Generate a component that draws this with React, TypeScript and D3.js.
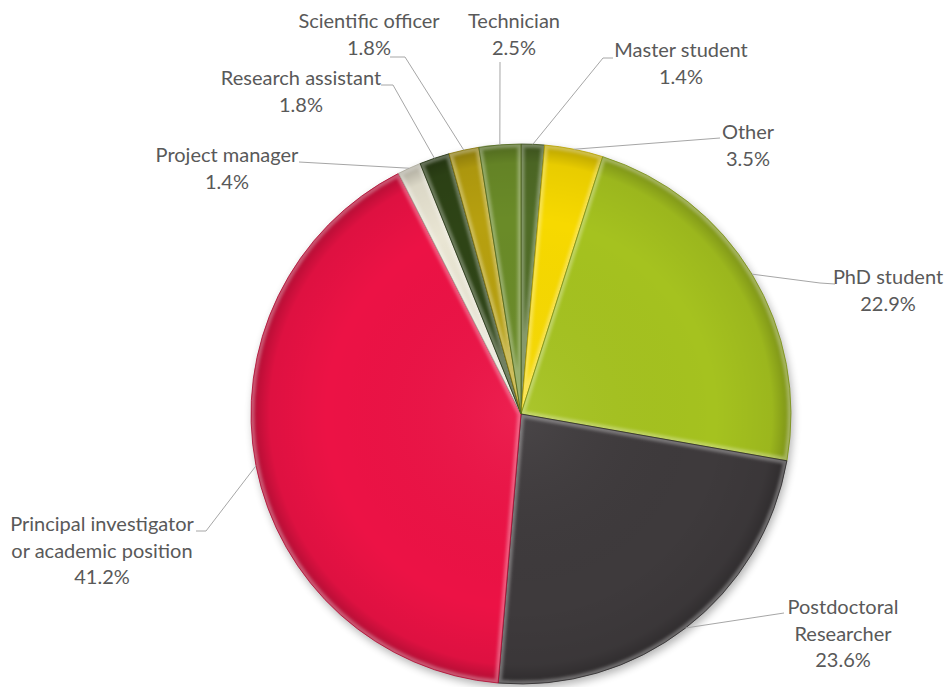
import React from 'react';
import * as d3 from 'd3';

const categories = [
  'Master student',
  'Other',
  'PhD student',
  'Postdoctoral Researcher',
  'Principal investigator or academic position',
  'Project manager',
  'Research assistant',
  'Scientific officer',
  'Technician',
];
const labelLines = [
  ['Master student'],
  ['Other'],
  ['PhD student'],
  ['Postdoctoral', 'Researcher'],
  ['Principal investigator', 'or academic position'],
  ['Project manager'],
  ['Research assistant'],
  ['Scientific officer'],
  ['Technician'],
];
const values = [1.4, 3.5, 22.9, 23.6, 41.2, 1.4, 1.8, 1.8, 2.5];
const colors = ['#4f6b26', '#f7d900', '#a5c21f', '#3e3a3c', '#ec1245', '#e9e5d3', '#2e4416', '#b7a00f', '#6a8b28'];

const W = 949;
const H = 687;
const CX = 521;
const CY = 414;
const R = 270;
const LINE_H = 26.5;

// label placement: centre x, first baseline, leader points (from pie outward to label)
const labelLayout: { cx: number; y: number; leader: [number, number][] }[] = [
  { cx: 681, y: 57, leader: [[603, 58], [613, 58]] },
  { cx: 748, y: 139, leader: [[720, 138]] },
  { cx: 888, y: 284, leader: [[820, 283], [835, 284]] },
  { cx: 843, y: 614, leader: [[784, 613]] },
  { cx: 102, y: 531, leader: [[206, 531], [196, 531]] },
  { cx: 227, y: 162, leader: [[299, 162]] },
  { cx: 301, y: 85, leader: [[393, 85], [381, 85]] },
  { cx: 369, y: 28, leader: [[405, 57], [390, 57]] },
  { cx: 514, y: 28, leader: [[500, 62]] },
];

export default function App() {
  const pie = d3.pie<number>().sort(null).value((d) => d).startAngle(0).endAngle(2 * Math.PI);
  const arcs = pie(values);
  const arc = d3.arc<d3.PieArcDatum<number>>().innerRadius(0).outerRadius(R);
  const edge = d3.arc<d3.PieArcDatum<number>>().innerRadius(R).outerRadius(R);
  const line = d3.line();

  return (
    <svg width={W} height={H} style={{ position: 'absolute', left: 0, top: 0, background: '#fff' }}
      fontFamily="Lato, 'Open Sans', sans-serif">
      <defs>
        <filter id="shadow" x="-20%" y="-20%" width="140%" height="140%">
          <feGaussianBlur stdDeviation="4" />
        </filter>
        <filter id="soft" x="-10%" y="-10%" width="120%" height="120%">
          <feGaussianBlur stdDeviation="1.6" />
        </filter>
        <radialGradient id="rim" cx={0} cy={0} r={R} gradientUnits="userSpaceOnUse">
          <stop offset="0" stopColor="#ffffff" stopOpacity="0.06" />
          <stop offset="0.72" stopColor="#000000" stopOpacity="0" />
          <stop offset="0.93" stopColor="#000000" stopOpacity="0.06" />
          <stop offset="1" stopColor="#000000" stopOpacity="0.26" />
        </radialGradient>
        {arcs.map((a, i) => (
          <clipPath id={`clip-${i}`} key={i}>
            <path d={arc(a) || ''} />
          </clipPath>
        ))}
      </defs>

      <circle cx={CX + 2} cy={CY + 4} r={R} fill="#000" opacity={0.3} filter="url(#shadow)" />

      <g transform={`translate(${CX},${CY})`}>
        {arcs.map((a, i) => (
          <g key={categories[i]}>
            <path d={arc(a) || ''} fill={colors[i]} />
            <g clipPath={`url(#clip-${i})`}>
              <path d={arc(a) || ''} fill="url(#rim)" />
              <path d={arc(a) || ''} fill="none"
                stroke="#ffffff" strokeOpacity={0.3} strokeWidth={7} filter="url(#soft)" />
            </g>
            <path d={arc(a) || ''} fill="none"
              stroke={d3.color(colors[i])!.darker(0.9).toString()} strokeWidth={1} strokeOpacity={0.8} />
          </g>
        ))}
      </g>

      <g>
        {arcs.map((a, i) => {
          const [px, py] = edge.centroid(a);
          const pts: [number, number][] = [[CX + px, CY + py], ...labelLayout[i].leader];
          return <path key={i} d={line(pts) || ''} fill="none" stroke="#a6a6a6" strokeWidth={1} />;
        })}
      </g>

      <g fill="#595959" fontSize={20} textAnchor="middle">
        {arcs.map((a, i) => {
          const L = labelLayout[i];
          const lines = [...labelLines[i], `${values[i].toFixed(1)}%`];
          return (
            <text key={i} x={L.cx} y={L.y}>
              {lines.map((t, j) => (
                <tspan key={j} x={L.cx} y={L.y + j * LINE_H}>{t}</tspan>
              ))}
            </text>
          );
        })}
      </g>
    </svg>
  );
}
